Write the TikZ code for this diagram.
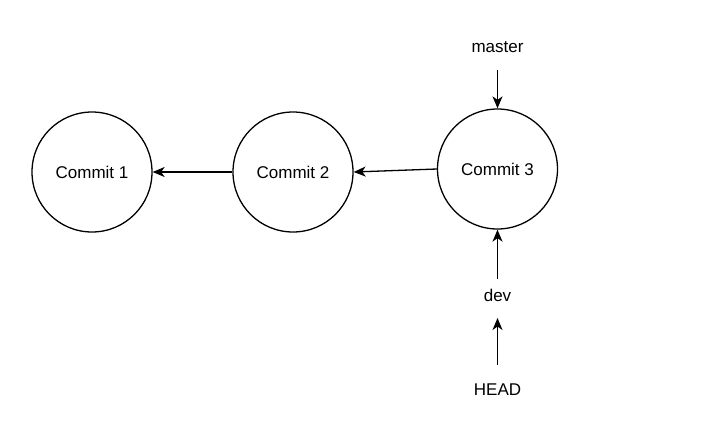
\documentclass[tikz,border=0pt]{standalone}
\usepackage{fontspec}
\setmainfont{Liberation Sans}
\usetikzlibrary{arrows.meta}
\begin{document}
\begin{tikzpicture}[x=1pt,y=-1pt,
  commit/.style={draw=black,line width=1.3pt,circle,minimum size=120pt,inner sep=0pt,font=\fontsize{17}{20}\selectfont},
  lbl/.style={inner sep=1pt,font=\fontsize{17}{20}\selectfont},
  conn/.style={line width=1.3pt,-{Stealth[length=12pt,width=10pt,inset=3.5pt]}}]
\useasboundingbox[fill=white] (0,0) rectangle (708,432);
\node[commit] (c1) at (92,172) {Commit 1};
\node[commit] (c2) at (293,172) {Commit 2};
\node[commit] (c3) at (497.5,169) {Commit 3};
\node[lbl] (master) at (497.5,47) {master};
\node[lbl] (dev) at (497.5,295) {dev};
\node[lbl] (head) at (497.5,390) {HEAD};
\coordinate (mstart) at (497.5,70);
\coordinate (dstart) at (497.5,279);
\coordinate (hstart) at (497.5,365);
\coordinate (hend) at (497.5,318);
\draw[conn] (c2.west) -- (c1.east);
\draw[conn] (c3.west) -- (c2.east);
\draw[conn] (mstart) -- (c3.north);
\draw[conn] (dstart) -- (c3.south);
\draw[conn] (hstart) -- (hend);
\end{tikzpicture}
\end{document}
